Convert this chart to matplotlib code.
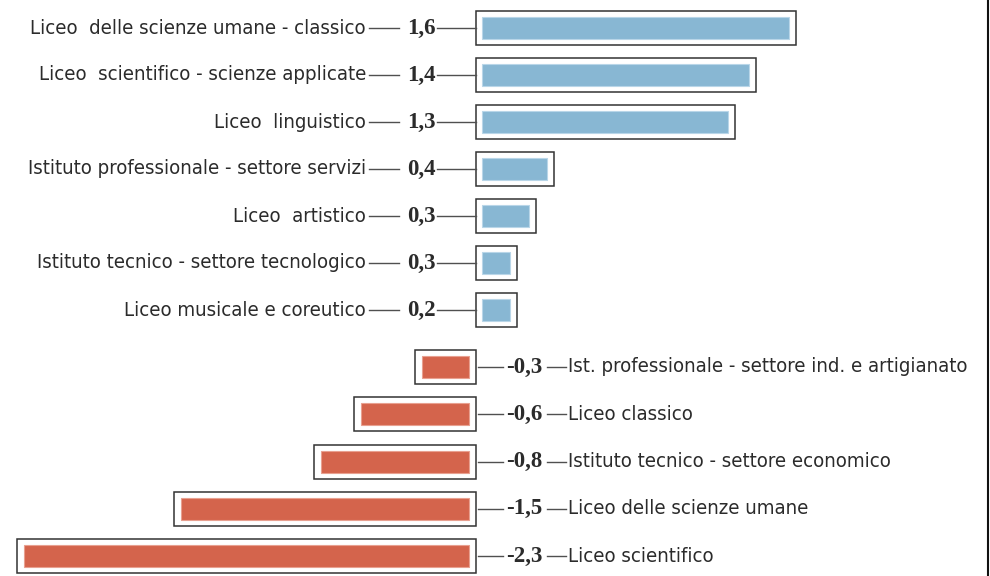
import matplotlib
matplotlib.use("Agg")
import matplotlib.pyplot as plt
from matplotlib.patches import Rectangle
from matplotlib.lines import Line2D

# ---------------- data ----------------
pos_labels = [
    "Liceo  delle scienze umane - classico",
    "Liceo  scientifico - scienze applicate",
    "Liceo  linguistico",
    "Istituto professionale - settore servizi",
    "Liceo  artistico",
    "Istituto tecnico - settore tecnologico",
    "Liceo musicale e coreutico",
]
pos_values = [1.6, 1.39, 1.28, 0.34, 0.245, 0.145, 0.145]
pos_text = ["1,6", "1,4", "1,3", "0,4", "0,3", "0,3", "0,2"]

neg_labels = [
    "Ist. professionale - settore ind. e artigianato",
    "Liceo classico",
    "Istituto tecnico - settore economico",
    "Liceo delle scienze umane",
    "Liceo scientifico",
]
neg_values = [-0.245, -0.56, -0.77, -1.5, -2.32]
neg_text = ["-0,3", "-0,6", "-0,8", "-1,5", "-2,3"]

# ---------------- style ----------------
BLUE = "#88b7d3"
RED = "#d4644c"
TXT = "#2b2b2b"
LINE = "#505050"
W, H = 990, 576
S = 192.0          # pixels per unit
X0 = 475.5         # pixel of zero

def px(p):
    """pixel x -> data x"""
    return (p - X0) / S

fig = plt.figure(figsize=(W / 100, H / 100), dpi=100)
ax = fig.add_axes([0, 0, 1, 1])
ax.set_xlim(px(0), px(W))
ax.set_ylim(H, 0)
ax.axis("off")

gap = 6.5 / S
pad = 7 / S
bar_h = 22
box_h = 34

lab_font = dict(family="DejaVu Sans", fontstretch="condensed", fontsize=14.6, color=TXT)
val_font = dict(family="Liberation Serif", fontweight="bold", fontsize=16.5, color=TXT)

for i, (lab, v, t) in enumerate(zip(pos_labels, pos_values, pos_text)):
    yc = 28 + 47.0 * i
    ax.add_patch(Rectangle((gap, yc - bar_h / 2), v, bar_h, fc=BLUE, ec="#b9d6e8", lw=0.8))
    ax.add_patch(Rectangle((0, yc - box_h / 2), v + gap + pad, box_h, fc="none", ec="#333333", lw=1.1))
    ax.text(px(366), yc, lab, ha="right", va="center", **lab_font)
    ax.plot([px(369), px(399)], [yc, yc], color=LINE, lw=1.0)
    ax.text(px(436), yc, t, ha="right", va="center", **val_font)
    ax.plot([px(437), px(475.5)], [yc, yc], color=LINE, lw=1.0)

for j, (lab, v, t) in enumerate(zip(neg_labels, neg_values, neg_text)):
    yc = 367 + 47.3 * j
    ax.add_patch(Rectangle((v - gap, yc - bar_h / 2), -v, bar_h, fc=RED, ec="#e8a090", lw=0.8))
    ax.add_patch(Rectangle((v - gap - pad, yc - box_h / 2), -v + pad + gap / 6.5 * 7.0, box_h,
                           fc="none", ec="#333333", lw=1.1))
    ax.plot([px(478), px(503)], [yc, yc], color=LINE, lw=1.0)
    ax.text(px(506), yc, t, ha="left", va="center", **val_font)
    ax.plot([px(547), px(566)], [yc, yc], color=LINE, lw=1.0)
    ax.text(px(568), yc, lab, ha="left", va="center", **lab_font)

fig.add_artist(Line2D([987.5 / W, 987.5 / W], [0, 1], color="#111111", lw=1.5))

fig.savefig("out.png", dpi=100, facecolor="white")
